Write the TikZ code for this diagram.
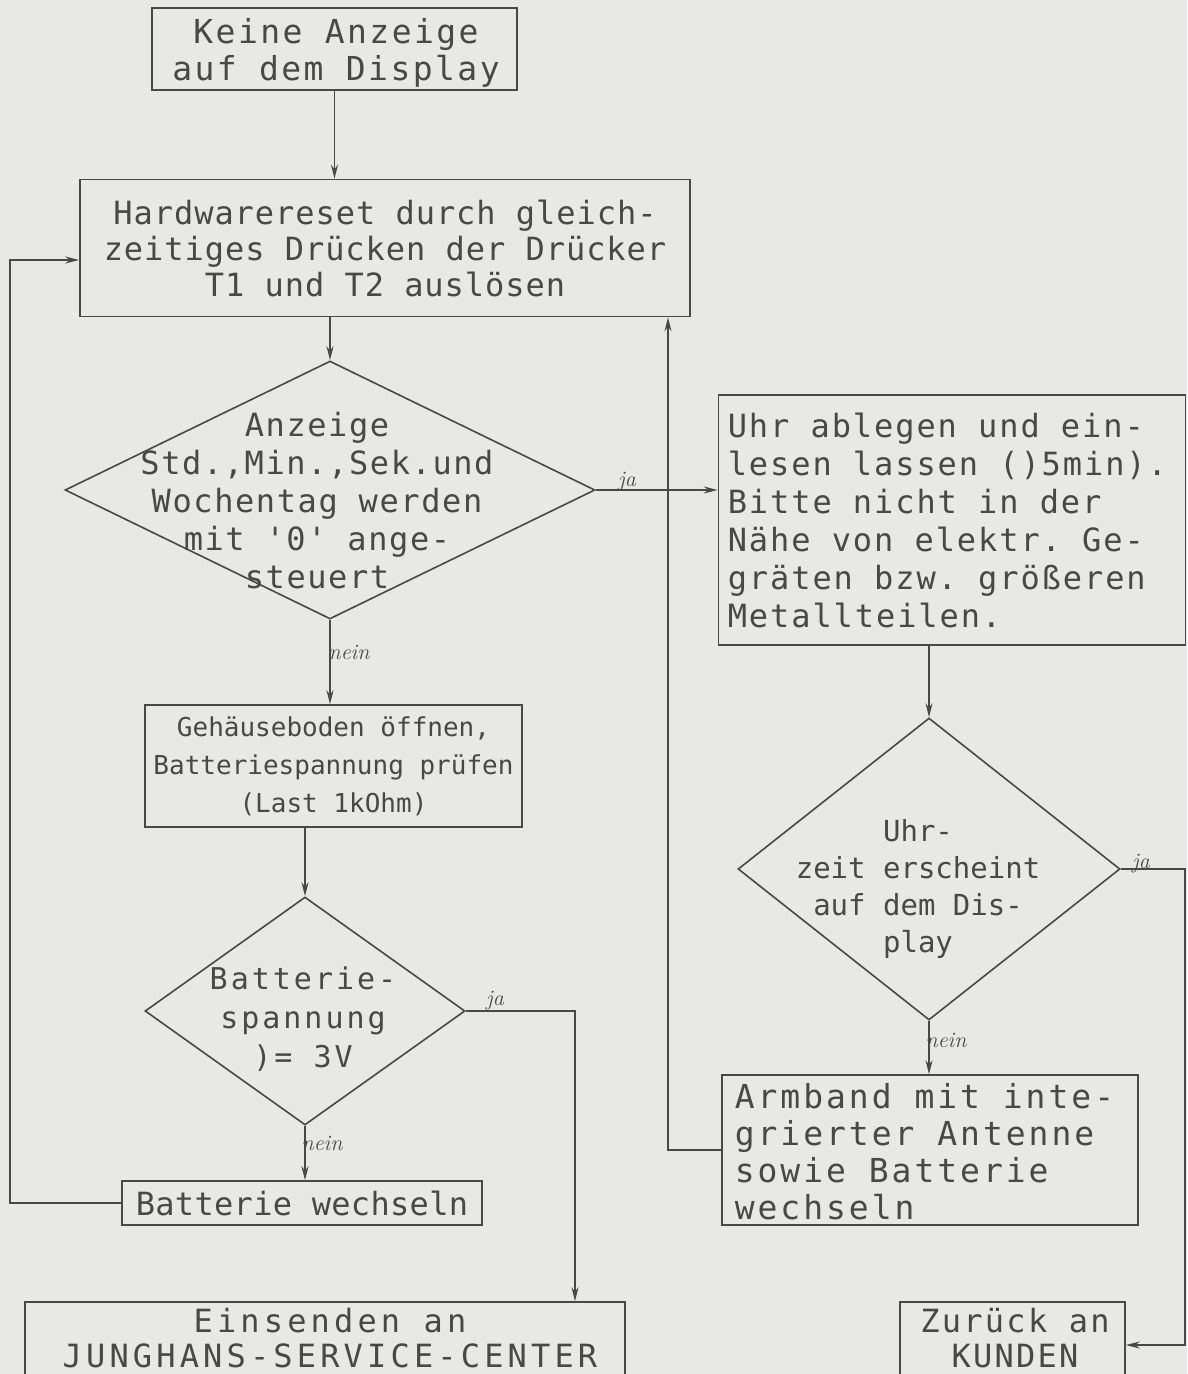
\documentclass[tikz,border=0pt]{standalone}
\usepackage{fontspec}
\setmonofont{DejaVu Sans Mono}
\usetikzlibrary{shapes.geometric,arrows.meta}
\definecolor{paper}{RGB}{232,232,230}
\definecolor{ink}{RGB}{72,72,72}
\newcommand{\fsz}[3]{\ttfamily\fontsize{#1}{#2}\selectfont\addfontfeature{LetterSpace=#3}}
\tikzstyle{box}=[draw=ink,rectangle,inner sep=0pt,align=center,text=ink]
\tikzstyle{dia}=[draw=ink,diamond,inner sep=0pt]
\tikzstyle{txt}=[align=center,text=ink,inner sep=0pt]
\tikzstyle{ltxt}=[align=left,text=ink,inner sep=0pt,anchor=west]
\tikzstyle{lbl}=[text=ink,font=\fontsize{11}{12}\selectfont\itshape,inner sep=1pt]
\tikzstyle{arr}=[-{Stealth[length=7pt,width=3.5pt]}]

\begin{document}
\begin{tikzpicture}[x=0.5pt,y=-0.5pt,line width=0.8pt,draw=ink]
    \fill[paper] (0,0) rectangle (1187,1374);
    \useasboundingbox (0,0) rectangle (1187,1374);
    \clip (0,0) rectangle (1187,1374);

    % left column
    \node[box,minimum width=182.5pt,minimum height=41pt] (keine) at (334.5,49) {};
    \node[txt,font={\fsz{16.5}{18.5}{7.4}}] (keinet) at (336,53) {Keine Anzeige\\auf dem Display};
    \node[box,minimum width=305pt,minimum height=68.5pt,font={\fsz{16}{18}{3}}] (reset) at (385,248) {Hardwarereset durch gleich-\\zeitiges Drücken der Drücker\\T1 und T2 auslösen};
    \node[dia,minimum width=265pt,minimum height=129pt] (anz) at (330,490) {};
    \node[txt,font={\fsz{16}{19}{5}}] (anzt) at (317,501) {Anzeige\\Std.,Min.,Sek.und\\Wochentag werden\\mit '0' ange-\\steuert};
    \node[box,minimum width=188.5pt,minimum height=61pt,font={\fsz{13}{19}{0}}] (geh) at (333.5,766) {Gehäuseboden öffnen,\\Batteriespannung prüfen\\(Last 1kOhm)};
    \node[dia,minimum width=160pt,minimum height=114pt] (batt) at (305,1011) {};
    \node[txt,font={\fsz{15}{19.5}{10}}] (battt) at (303,1019) {Batterie-\\spannung\\)= 3V};
    \node[box,minimum width=180pt,minimum height=22pt,font={\fsz{16}{18.5}{1}}] (wechs) at (302,1203) {Batterie wechseln};
    \node[box,minimum width=300pt,minimum height=40pt] (send) at (325,1342) {};
    \node[txt,font={\fsz{16}{17.5}{13}}] (sendt) at (330,1338) {Einsenden an\\JUNGHANS-SERVICE-CENTER};

    % right column
    \node[box,minimum width=233.5pt,minimum height=125pt] (ablegen) at (952,520) {};
    \node[ltxt,font={\fsz{16}{19}{6}}] (ablegent) at (727,520) {Uhr ablegen und ein-\\lesen lassen ()5min).\\Bitte nicht in der\\Nähe von elektr. Ge-\\gräten bzw. größeren\\Metallteilen.};
    \node[dia,minimum width=191pt,minimum height=151pt] (zeit) at (929,869) {};
    \node[txt,font={\fsz{14.5}{18.5}{0}}] (zeitt) at (918,889) {Uhr-\\zeit erscheint\\auf dem Dis-\\play};
    \node[box,minimum width=208pt,minimum height=75pt] (armb) at (930,1150) {};
    \node[ltxt,font={\fsz{16.5}{18.5}{9}}] (armbt) at (734,1152) {Armband mit inte-\\grierter Antenne\\sowie Batterie\\wechseln};
    \node[box,minimum width=112.5pt,minimum height=40pt] (kund) at (1012.5,1342) {};
    \node[txt,font={\fsz{16}{17.5}{7}}] (kundt) at (1015,1338) {Zurück an\\KUNDEN};

    % labels
    \node[lbl] (ja1) at (627,482) {ja};
    \node[lbl] (nein1) at (349,652) {nein};
    \node[lbl] (ja2) at (1141,864) {ja};
    \node[lbl] (nein2) at (946,1040) {nein};
    \node[lbl] (ja3) at (495,1001) {ja};
    \node[lbl] (nein3) at (322,1143) {nein};

    \coordinate (back) at (10,260);
    \coordinate (up) at (668,0);
    \coordinate (drop) at (575,1011);
    \coordinate (ret) at (1185,1345);

    % connectors
    \draw[arr] (keine.south) -- (keine.south |- reset.north);
    \draw[arr] (anz.north |- reset.south) -- (anz.north);
    \draw[arr] (anz.east) -- (anz.east -| ablegen.west);
    \draw[arr] (anz.south) -- (anz.south |- geh.north);
    \draw[arr] (batt.north |- geh.south) -- (batt.north);
    \draw[arr] (batt.south) -- (batt.south |- wechs.north);
    \draw[arr] (batt.east) -- (drop) -- (drop |- send.north);
    \draw[arr] (wechs.west) -- (wechs.west -| back) -- (back) -- (back -| reset.west);
    \draw[arr] (zeit.north |- ablegen.south) -- (zeit.north);
    \draw[arr] (zeit.south) -- (zeit.south |- armb.north);
    \draw[arr] (armb.west) -- (armb.west -| up) -- (up |- reset.south);
    \draw[arr] (zeit.east) -- (zeit.east -| ret) -- (ret) -- (ret -| kund.east);
\end{tikzpicture}
\end{document}
